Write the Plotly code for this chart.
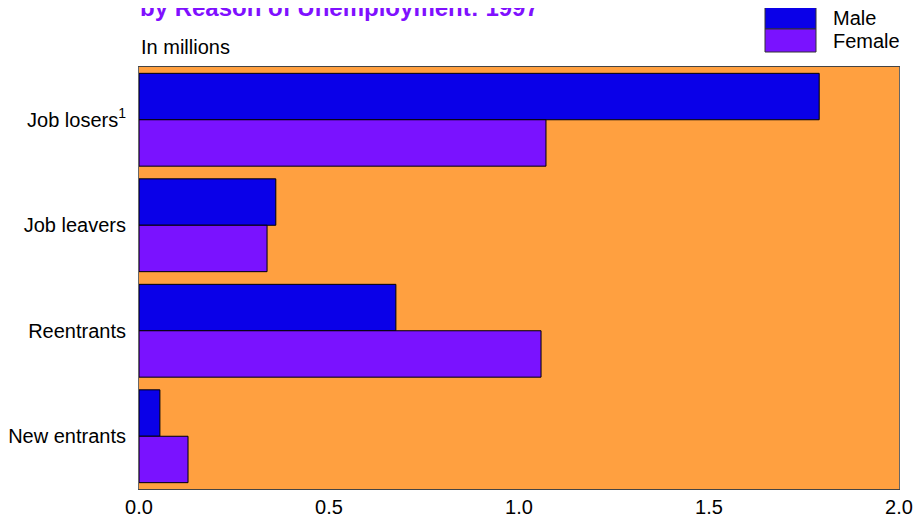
import plotly.graph_objects as go

categories = ["Job losers<sup>1</sup>", "Job leavers", "Reentrants", "New entrants"]
male = [1.79, 0.36, 0.676, 0.055]
female = [1.071, 0.337, 1.058, 0.129]
x_ticks = [0.0, 0.5, 1.0, 1.5, 2.0]

MALE_C = "#0A00E8"
FEMALE_C = "#7A12FF"
BG = "#FFA040"
FONT = "Liberation Sans, Arial, sans-serif"

# page body adds an 8px offset; target plot area in screen px: x 139..899, y 67..489
OFF = 8
PL, PR, PT, PB = 139, 899, 67, 489
W, H = 922, 517

fig = go.Figure()
fig.add_trace(go.Bar(y=categories, x=male, orientation="h", name="Male",
                     marker=dict(color=MALE_C, line=dict(color="black", width=1))))
fig.add_trace(go.Bar(y=categories, x=female, orientation="h", name="Female",
                     marker=dict(color=FEMALE_C, line=dict(color="black", width=1))))

fig.update_layout(
    width=W, height=H,
    margin=dict(l=PL - OFF, r=W - (PR - OFF), t=PT - OFF, b=H - (PB - OFF)),
    paper_bgcolor="white", plot_bgcolor=BG,
    barmode="group", bargap=0.12, bargroupgap=0,
    showlegend=False,
    font=dict(family=FONT, size=20, color="black"),
    xaxis=dict(range=[0, 2.0], tickvals=x_ticks, tickformat=".1f",
               showgrid=False, zeroline=False, showline=True, linecolor="#444",
               linewidth=1, mirror=True, ticks="", ticklen=0, automargin=False,
               tickfont=dict(size=20)),
    yaxis=dict(autorange="reversed", showgrid=False, zeroline=False,
               showline=True, linecolor="#666", linewidth=1, mirror=True,
               ticks="", ticklabelstandoff=8, automargin=False,
               tickfont=dict(size=20)),
)

pw = PR - PL
ph = PB - PT
px_x = lambda p: (p - PL) / pw
px_y = lambda p: (PB - p) / ph

fig.add_annotation(text="<b>by Reason of Unemployment: 1997</b>", xref="paper", yref="paper",
                   x=px_x(138), y=px_y(23), xanchor="left", yanchor="bottom",
                   showarrow=False, font=dict(size=24, color="#8010FF"))
fig.add_annotation(text="In millions", xref="paper", yref="paper",
                   x=px_x(139), y=px_y(60), xanchor="left", yanchor="bottom",
                   showarrow=False, font=dict(size=20))

# legend drawn manually: stacked colour boxes
fig.add_shape(type="rect", xref="paper", yref="paper",
              x0=px_x(765), x1=px_x(816), y0=px_y(29), y1=px_y(6),
              fillcolor=MALE_C, line=dict(color="#333", width=1))
fig.add_shape(type="rect", xref="paper", yref="paper",
              x0=px_x(765), x1=px_x(816), y0=px_y(52), y1=px_y(29),
              fillcolor=FEMALE_C, line=dict(color="#333", width=1))
fig.add_annotation(text="Male", xref="paper", yref="paper", x=px_x(831), y=px_y(18),
                   xanchor="left", yanchor="middle", showarrow=False, font=dict(size=20))
fig.add_annotation(text="Female", xref="paper", yref="paper", x=px_x(831), y=px_y(41),
                   xanchor="left", yanchor="middle", showarrow=False, font=dict(size=20))

fig.write_html("out.html")
